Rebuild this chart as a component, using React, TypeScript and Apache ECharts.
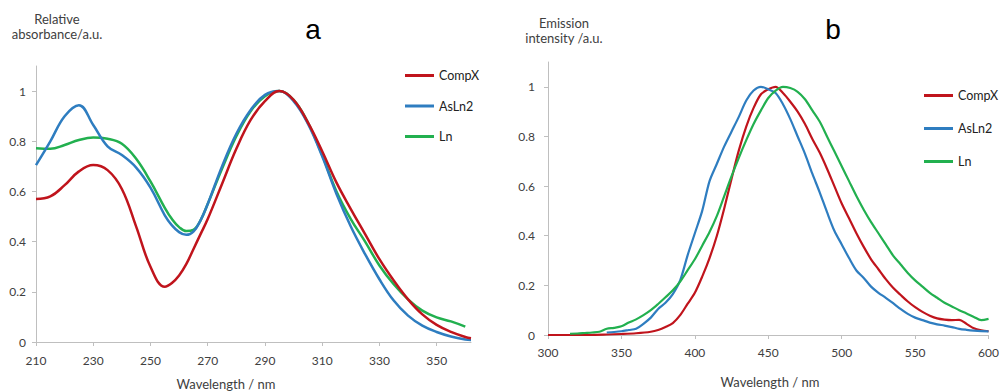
import React, { useEffect, useRef } from "react";
import * as echarts from "echarts";

// ---- Chart a: absorbance ----
const absWavelength = [210, 215, 220, 225, 230, 235, 240, 245, 250, 255, 257.5, 260, 262.5, 265, 267.5, 270, 275, 280, 285, 290, 295, 300, 305, 310, 315, 320, 325, 330, 335, 340, 345, 350, 355, 360, 362];
const absCompX = [0.57, 0.58, 0.625, 0.68, 0.705, 0.685, 0.61, 0.46, 0.3, 0.22, 0.235, 0.265, 0.31, 0.37, 0.43, 0.49, 0.63, 0.77, 0.885, 0.96, 1.0, 0.965, 0.875, 0.76, 0.635, 0.53, 0.43, 0.33, 0.245, 0.17, 0.11, 0.068, 0.04, 0.02, 0.015];
const absAsLn2 = [0.705, 0.8, 0.9, 0.944, 0.865, 0.78, 0.745, 0.695, 0.615, 0.505, 0.465, 0.438, 0.427, 0.44, 0.485, 0.55, 0.7, 0.83, 0.925, 0.985, 1.0, 0.96, 0.87, 0.74, 0.59, 0.46, 0.35, 0.25, 0.165, 0.105, 0.065, 0.04, 0.022, 0.01, 0.008];
const absLn = [0.772, 0.77, 0.785, 0.805, 0.815, 0.81, 0.79, 0.73, 0.64, 0.535, 0.49, 0.458, 0.442, 0.447, 0.485, 0.55, 0.69, 0.82, 0.92, 0.98, 1.0, 0.965, 0.875, 0.745, 0.6, 0.49, 0.4, 0.305, 0.23, 0.17, 0.125, 0.098, 0.082, 0.061, null];
const absXTicks = [210, 230, 250, 270, 290, 310, 330, 350];

// ---- Chart b: emission ----
const emCompXx = [300, 320, 340, 350, 360, 370, 375, 380, 385, 390, 395, 400, 405, 410, 415, 420, 425, 430, 435, 440, 445, 450, 455, 460, 465, 470, 475, 480, 485, 490, 495, 500, 505, 510, 515, 520, 525, 530, 535, 540, 545, 550, 555, 560, 565, 570, 575, 580, 585, 590, 595, 600];
const emCompXy = [0, 0, 0.002, 0.004, 0.007, 0.013, 0.02, 0.032, 0.048, 0.08, 0.125, 0.17, 0.235, 0.31, 0.4, 0.51, 0.63, 0.745, 0.84, 0.915, 0.97, 0.99, 1.0, 0.975, 0.94, 0.9, 0.85, 0.79, 0.735, 0.67, 0.6, 0.53, 0.47, 0.41, 0.355, 0.305, 0.265, 0.225, 0.19, 0.162, 0.135, 0.112, 0.093, 0.078, 0.067, 0.062, 0.06, 0.061, 0.045, 0.027, 0.019, 0.015];
const emAsLn2x = [340, 345, 350, 355, 360, 365, 370, 375, 380, 385, 390, 395, 400, 405, 410, 415, 420, 425, 430, 435, 440, 445, 450, 455, 460, 465, 470, 475, 480, 485, 490, 495, 500, 505, 510, 515, 520, 525, 530, 535, 540, 545, 550, 555, 560, 565, 570, 575, 580, 585, 590, 595, 600];
const emAsLn2y = [0.01, 0.012, 0.015, 0.02, 0.025, 0.045, 0.07, 0.105, 0.13, 0.165, 0.22, 0.32, 0.41, 0.5, 0.62, 0.69, 0.76, 0.82, 0.88, 0.945, 0.985, 1.0, 0.99, 0.975, 0.93, 0.87, 0.8, 0.73, 0.65, 0.575, 0.495, 0.42, 0.365, 0.31, 0.26, 0.23, 0.195, 0.17, 0.15, 0.128, 0.105, 0.085, 0.07, 0.06, 0.05, 0.043, 0.038, 0.032, 0.025, 0.021, 0.018, 0.016, 0.015];
const emLnx = [315, 320, 325, 330, 335, 340, 345, 350, 355, 360, 365, 370, 375, 380, 385, 390, 395, 400, 405, 410, 415, 420, 425, 430, 435, 440, 445, 450, 455, 460, 465, 470, 475, 480, 485, 490, 495, 500, 505, 510, 515, 520, 525, 530, 535, 540, 545, 550, 555, 560, 565, 570, 575, 580, 585, 590, 595, 600];
const emLny = [0.005, 0.006, 0.008, 0.01, 0.013, 0.025, 0.029, 0.035, 0.05, 0.063, 0.08, 0.1, 0.125, 0.152, 0.18, 0.215, 0.26, 0.305, 0.36, 0.415, 0.48, 0.56, 0.64, 0.715, 0.785, 0.85, 0.905, 0.955, 0.985, 1.0, 0.995, 0.98, 0.95, 0.905, 0.86, 0.8, 0.74, 0.68, 0.62, 0.56, 0.505, 0.455, 0.41, 0.365, 0.32, 0.285, 0.25, 0.22, 0.195, 0.17, 0.15, 0.13, 0.115, 0.1, 0.087, 0.073, 0.06, 0.065];

const yTicks = [0, 0.2, 0.4, 0.6, 0.8, 1];
const seriesNames = ["CompX", "AsLn2", "Ln"];
const colors = ["#C0141C", "#2E7DC0", "#22B04F"];

const FONT = "Lato, 'Open Sans', sans-serif";
const GREY = "#404040";
const AXIS = "#BFBFBF";

const pairs = (xs: number[], ys: (number | null)[]) =>
  xs.map((x, i) => [x, ys[i]]).filter((p) => p[1] !== null);

export default function App() {
  const ref = useRef<HTMLDivElement>(null);
  useEffect(() => {
    if (!ref.current) return;
    const chart = echarts.init(ref.current, null, { renderer: "svg" });

    const axisCommon = {
      axisLine: { show: true, lineStyle: { color: AXIS, width: 1 } },
      axisTick: { show: true, length: 4, lineStyle: { color: AXIS } },
      splitLine: { show: false },
    };
    const labelStyle = { color: GREY, fontSize: 12, fontFamily: FONT };

    const absSeries = [absCompX, absAsLn2, absLn].map((vals, i) => ({
      name: seriesNames[i],
      type: "line",
      xAxisIndex: 0,
      yAxisIndex: 0,
      data: pairs(absWavelength, vals),
      smooth: 0.4,
      showSymbol: false,
      lineStyle: { width: 2.5, color: colors[i] },
      itemStyle: { color: colors[i] },
      z: 3 - i,
    }));
    const emData = [
      pairs(emCompXx, emCompXy),
      pairs(emAsLn2x, emAsLn2y),
      pairs(emLnx, emLny),
    ];
    const emSeries = emData.map((d, i) => ({
      name: seriesNames[i],
      type: "line",
      xAxisIndex: 1,
      yAxisIndex: 1,
      data: d,
      smooth: 0.3,
      showSymbol: false,
      lineStyle: { width: 2.2, color: colors[i] },
      itemStyle: { color: colors[i] },
    }));

    const legendCommon = {
      orient: "vertical",
      icon: "rect",
      itemWidth: 29,
      itemHeight: 3,
      selectedMode: false,
      data: seriesNames,
      textStyle: { color: "#222", fontSize: 12.5, fontFamily: FONT, lineHeight: 15 },
    };

    const txt = (text: string, x: number, y: number, size = 13, color = GREY, family = FONT) => ({
      type: "text",
      x,
      y,
      style: {
        text,
        fill: color,
        fontSize: size,
        fontFamily: family,
        align: "center",
        verticalAlign: "middle",
        lineHeight: 15,
      },
    });

    chart.setOption({
      animation: false,
      backgroundColor: "#fff",
      grid: [
        { left: 36, top: 66, width: 435, height: 276 },
        { left: 548, top: 62, width: 444, height: 273 },
      ],
      xAxis: [
        {
          type: "value",
          gridIndex: 0,
          min: 210,
          max: 362,
          ...axisCommon,
          axisTick: { ...axisCommon.axisTick, customValues: absXTicks },
          axisLabel: { ...labelStyle, margin: 12, customValues: absXTicks },
        },
        {
          type: "value",
          gridIndex: 1,
          min: 300,
          max: 600,
          interval: 50,
          ...axisCommon,
          axisLabel: { ...labelStyle, margin: 11 },
        },
      ],
      yAxis: [
        {
          type: "value",
          gridIndex: 0,
          min: 0,
          max: 1.1,
          ...axisCommon,
          axisTick: { ...axisCommon.axisTick, customValues: yTicks },
          axisLabel: { ...labelStyle, margin: 10, customValues: yTicks },
        },
        {
          type: "value",
          gridIndex: 1,
          min: 0,
          max: 1.1,
          ...axisCommon,
          axisTick: { ...axisCommon.axisTick, customValues: yTicks },
          axisLabel: { ...labelStyle, margin: 13, customValues: yTicks },
        },
      ],
      legend: [
        { ...legendCommon, left: 400, top: 63, itemGap: 15.5 },
        { ...legendCommon, left: 919, top: 83, itemGap: 18 },
      ],
      graphic: [
        txt("a", 313, 29, 28, "#000", "'Liberation Sans', Arial, sans-serif"),
        txt("b", 833, 29, 28, "#000", "'Liberation Sans', Arial, sans-serif"),
        txt("Relative\nabsorbance/a.u.", 57, 26),
        txt("Emission\nintensity /a.u.", 564, 30),
        txt("Wavelength / nm", 226, 384),
        txt("Wavelength / nm", 770, 382),
      ],
      series: [...absSeries, ...emSeries],
    });
    return () => chart.dispose();
  }, []);
  return (
    <div
      ref={ref}
      style={{ position: "absolute", left: 0, top: 0, width: 1002, height: 392 }}
    />
  );
}
